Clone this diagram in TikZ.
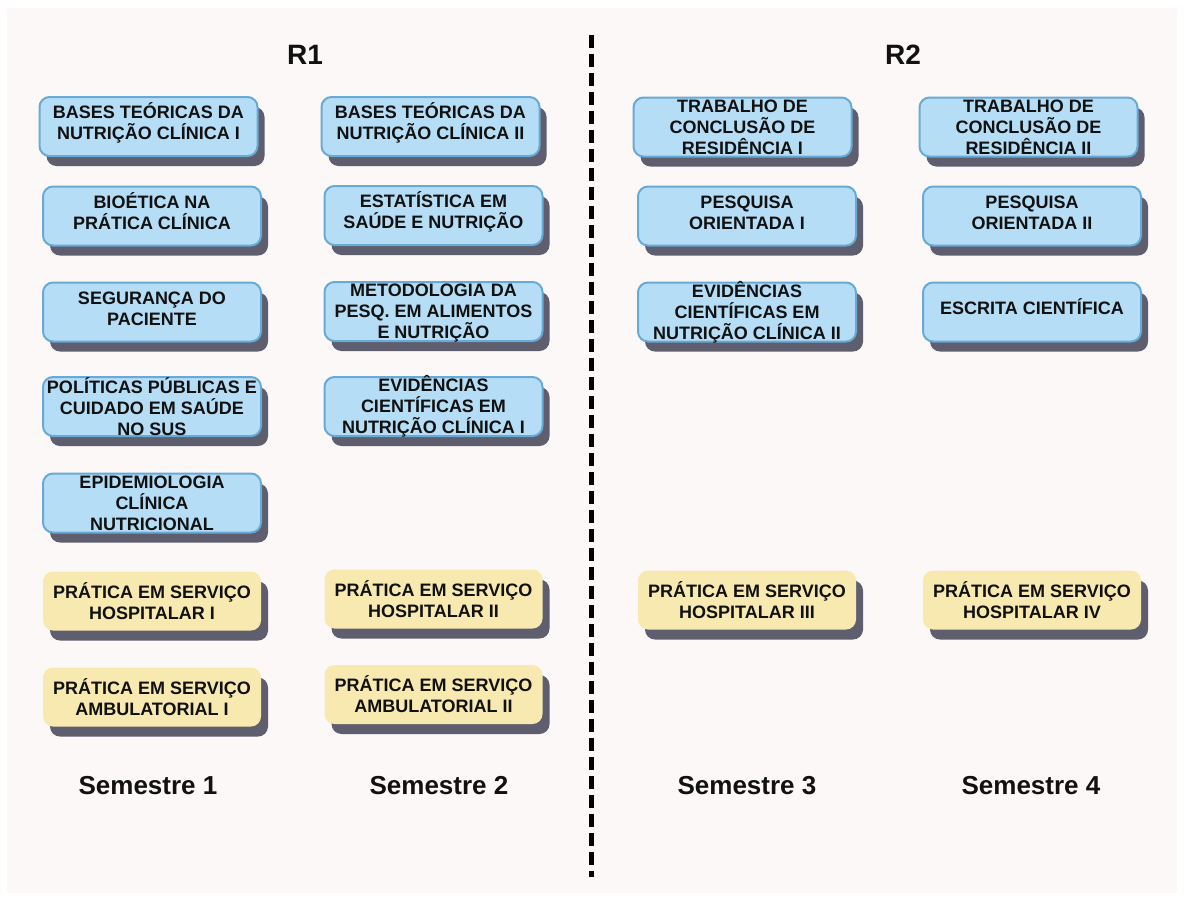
\documentclass[tikz,border=0pt]{standalone}
\usepackage{fontspec}
\setmainfont{Liberation Sans}
\usetikzlibrary{shadows}
\definecolor{bgpink}{RGB}{252,248,247}
\definecolor{boxblue}{RGB}{182,221,246}
\definecolor{boxedge}{RGB}{104,170,214}
\definecolor{boxyellow}{RGB}{248,233,176}
\definecolor{shadowgray}{RGB}{95,94,110}
\definecolor{textblack}{RGB}{17,17,17}
\newcommand\course[6]{%
  \node[#2] (#1) at (#3,#4) {};
  \node[coursetext,#6] (#1t) at (#1.center) {\vphantom{É}#5\vphantom{Ç}};}
\begin{document}
\begin{tikzpicture}[x=0.5pt,y=-0.5pt,
  coursebox/.style={rounded corners=5pt, minimum width=109pt, minimum height=29.5pt, inner sep=0pt,
    drop shadow={shadow xshift=3.5pt, shadow yshift=-5pt, fill=shadowgray, opacity=1}},
  bluebox/.style={coursebox, fill=boxblue, draw=boxedge, line width=1pt},
  yellowbox/.style={coursebox, fill=boxyellow},
  coursetext/.style={align=center, font=\fontsize{9}{10.5}\selectfont\bfseries, text=textblack, inner sep=0pt},
  up/.style={yshift=1.6pt},
  down/.style={yshift=-0.8pt},
  title/.style={font=\fontsize{14}{16}\selectfont\bfseries, text=textblack, inner sep=0pt},
  semester/.style={font=\fontsize{13}{15}\selectfont\bfseries, text=textblack, inner sep=0pt},
  divider/.style={line width=2.5pt, dash pattern=on 6.5pt off 3pt, black}]
\useasboundingbox (0,0) rectangle (1184,901);
\fill[white] (0,0) rectangle (1184,901);
\fill[bgpink] (7,8) rectangle (1177,893);

\coordinate (dtop) at (591,35);
\coordinate (dbot) at (591,877);
\draw[divider] (dtop) -- (dbot);

\node[title] (r1) at (305,55) {R1};
\node[title] (r2) at (903,55) {R2};

% Semestre 1
\course{a1}{bluebox}{148.5}{126.5}{BASES TEÓRICAS DA\\NUTRIÇÃO CLÍNICA I}{up}
\course{a2}{bluebox}{152}{216}{BIOÉTICA NA\\PRÁTICA CLÍNICA}{up}
\course{a3}{bluebox}{152}{312}{SEGURANÇA DO\\PACIENTE}{up}
\course{a4}{bluebox}{152}{406.5}{POLÍTICAS PÚBLICAS E\\CUIDADO EM SAÚDE\\NO SUS}{yshift=-1pt}
\course{a5}{bluebox}{152}{503}{EPIDEMIOLOGIA\\CLÍNICA\\NUTRICIONAL}{}
\course{a6}{yellowbox}{152}{601}{PRÁTICA EM SERVIÇO\\HOSPITALAR I}{down}
\course{a7}{yellowbox}{152}{697}{PRÁTICA EM SERVIÇO\\AMBULATORIAL I}{down}

% Semestre 2
\course{b1}{bluebox}{430.5}{126.5}{BASES TEÓRICAS DA\\NUTRIÇÃO CLÍNICA II}{up}
\course{b2}{bluebox}{433.5}{215.5}{ESTATÍSTICA EM\\SAÚDE E NUTRIÇÃO}{up}
\course{b3}{bluebox}{433.5}{311.5}{METODOLOGIA DA\\PESQ. EM ALIMENTOS\\E NUTRIÇÃO}{}
\course{b4}{bluebox}{433.5}{406.5}{EVIDÊNCIAS\\CIENTÍFICAS EM\\NUTRIÇÃO CLÍNICA I}{}
\course{b5}{yellowbox}{433.5}{599}{PRÁTICA EM SERVIÇO\\HOSPITALAR II}{down}
\course{b6}{yellowbox}{433.5}{694.5}{PRÁTICA EM SERVIÇO\\AMBULATORIAL II}{down}

% Semestre 3
\course{c1}{bluebox}{742.5}{127}{TRABALHO DE\\CONCLUSÃO DE\\RESIDÊNCIA I}{}
\course{c2}{bluebox}{747}{216}{PESQUISA\\ORIENTADA I}{up}
\course{c3}{bluebox}{747}{312}{EVIDÊNCIAS\\CIENTÍFICAS EM\\NUTRIÇÃO CLÍNICA II}{}
\course{c4}{yellowbox}{747}{600}{PRÁTICA EM SERVIÇO\\HOSPITALAR III}{down}

% Semestre 4
\course{d1}{bluebox}{1028.5}{127}{TRABALHO DE\\CONCLUSÃO DE\\RESIDÊNCIA II}{}
\course{d2}{bluebox}{1032}{216}{PESQUISA\\ORIENTADA II}{up}
\course{d3}{bluebox}{1032}{312}{ESCRITA CIENTÍFICA}{up}
\course{d4}{yellowbox}{1032}{600}{PRÁTICA EM SERVIÇO\\HOSPITALAR IV}{down}

\node[semester] (s1) at (148,786) {Semestre 1};
\node[semester] (s2) at (439,786) {Semestre 2};
\node[semester] (s3) at (747,786) {Semestre 3};
\node[semester] (s4) at (1031,786) {Semestre 4};
\end{tikzpicture}
\end{document}
